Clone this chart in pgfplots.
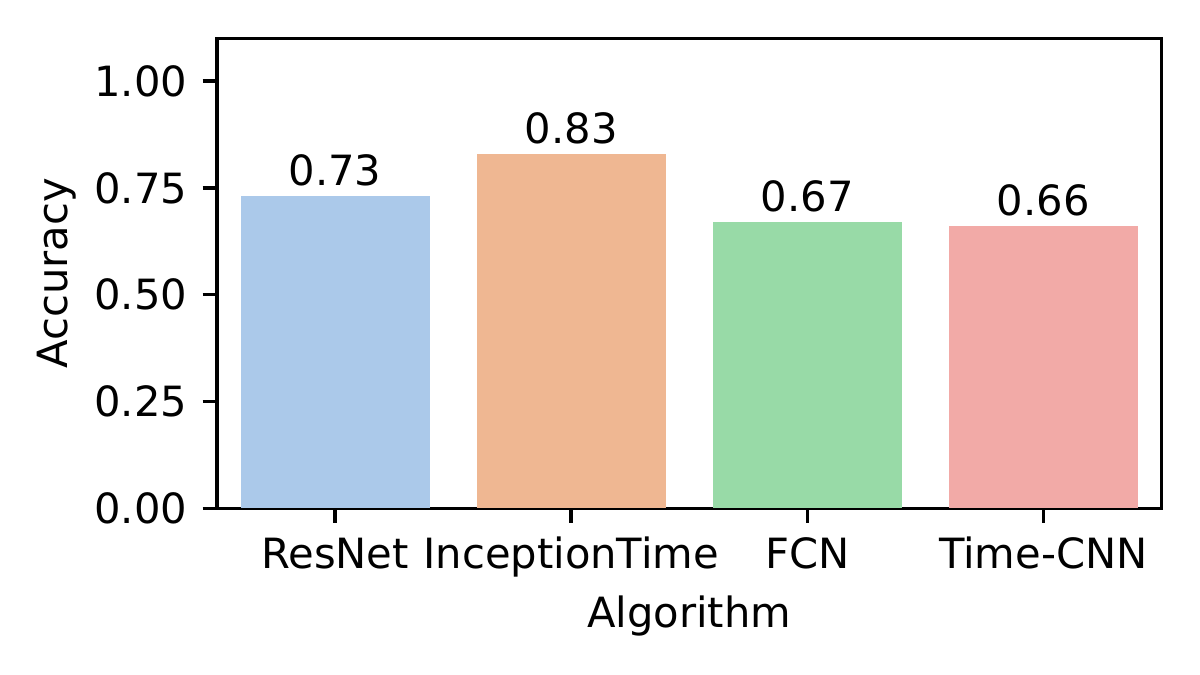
\documentclass[border=0pt]{standalone}
\usepackage{fontspec}
\setmainfont{DejaVu Sans}
\usepackage{pgfplots}
\pgfplotsset{compat=1.18}
\definecolor{cblue}{RGB}{171,201,234}
\definecolor{corange}{RGB}{239,183,146}
\definecolor{cgreen}{RGB}{152,218,167}
\definecolor{cred}{RGB}{242,170,167}
\begin{document}
\fontsize{10}{12}\selectfont
\begin{tikzpicture}
\begin{axis}[
  scale only axis,
  width=226.6pt, height=112.8pt,
  xmin=-0.5, xmax=3.5, ymin=0, ymax=1.1,
  xtick={0,1,2,3},
  xticklabels={ResNet,InceptionTime,FCN,Time-CNN},
  ytick={0,0.25,0.5,0.75,1},
  /pgf/number format/assume math mode=true,
  tick align=outside, xtick pos=bottom, ytick pos=left,
  major tick length=3.5pt,
  every tick/.style={black, line width=0.8pt},
  axis line style={line width=0.8pt},
  tick label style={font=\fontsize{10}{12}\selectfont},
  xticklabel style={inner sep=0pt, anchor=north, yshift=-3.5pt, text height=7.3pt, text depth=2.4pt},
  yticklabel style={inner sep=0pt, anchor=east, xshift=-3.5pt,
    /pgf/number format/fixed, /pgf/number format/fixed zerofill, /pgf/number format/precision=2},
  xlabel={Algorithm}, ylabel={Accuracy},
  xlabel style={at={(axis description cs:0.5,-0.253)}, anchor=base, inner sep=0pt},
  ylabel style={at={(axis description cs:-0.1695,0.5)}, anchor=center, rotate=0, inner sep=0pt},
  label style={font=\fontsize{10}{12}\selectfont},
  ybar, bar width=0.8, bar shift=0pt,
  nodes near coords,
  nodes near coords style={font=\fontsize{10}{12}\selectfont, anchor=south, inner sep=2.2pt,
    /pgf/number format/fixed, /pgf/number format/fixed zerofill, /pgf/number format/precision=2},
  clip=false,
]
\addplot[fill=cblue, draw=none] coordinates {(0,0.73)};
\addplot[fill=corange, draw=none] coordinates {(1,0.83)};
\addplot[fill=cgreen, draw=none] coordinates {(2,0.67)};
\addplot[fill=cred, draw=none] coordinates {(3,0.66)};
\coordinate (O) at (rel axis cs:0,0);
\end{axis}
\pgfresetboundingbox
\path (O) ++(-52.1pt,-39.8pt) rectangle ++(288pt,161.8pt);
\end{tikzpicture}
\end{document}
